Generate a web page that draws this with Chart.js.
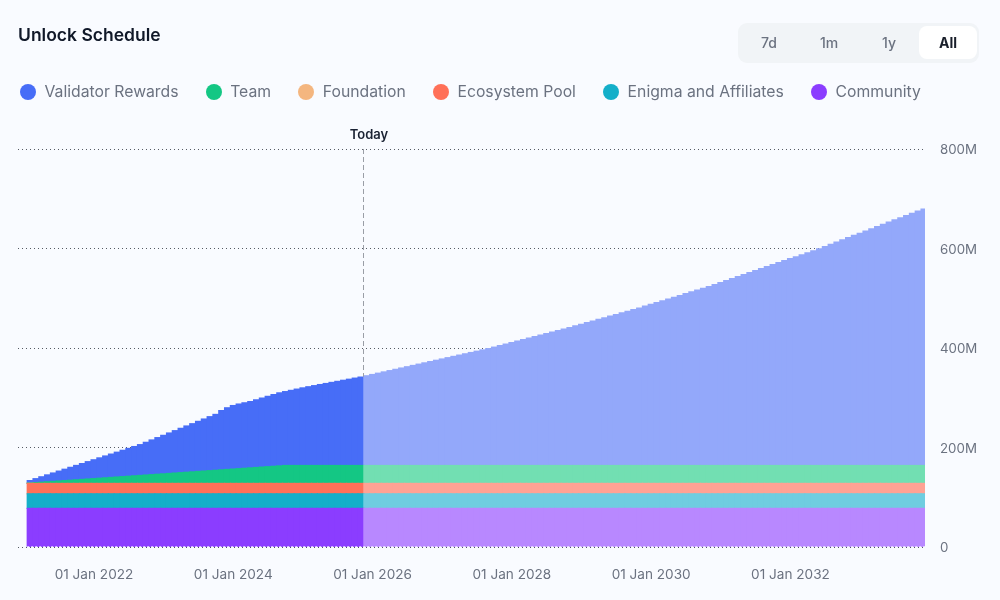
<!DOCTYPE html>
<html>
<head>
<meta charset="utf-8">
<title>Unlock Schedule</title>
<script src="https://cdn.jsdelivr.net/npm/chart.js@4"></script>
<style>
    html, body { margin: 0; padding: 0; background: #f9fbff; }
    body { width: 1000px; height: 600px; position: relative; overflow: hidden; font-family: Inter, sans-serif; }
    canvas { position: absolute; left: 0; top: 0; }
    .title { position: absolute; left: 18px; top: 24px; font-size: 17.5px; line-height: 22px; font-weight: 600; color: #101828; }
    .legend { position: absolute; left: 20px; top: 81px; display: flex; gap: 27.2px; font-size: 15.75px; line-height: 22px; color: #6b7280; white-space: nowrap; }
    .legend span { display: flex; align-items: center; gap: 8.5px; }
    .legend i { width: 16px; height: 16px; border-radius: 50%; display: block; }
    .range { position: absolute; left: 738px; top: 23px; width: 241px; height: 40px; background: #f1f4f7; border-radius: 9px; }
    .range b { position: absolute; top: 3px; width: 58px; height: 33px; line-height: 34px; text-align: center; font-size: 14px; font-weight: 500; color: #6b7280; border-radius: 8px; }
    .range b.on { background: #fff; color: #1a1f2b; font-weight: 700; }
</style>
</head>
<body>
<canvas id="unlockChart" width="1000" height="600"></canvas>
<div class="title">Unlock Schedule</div>
<div class="legend" id="legend"></div>
<div class="range">
    <b style="left:2px">7d</b><b style="left:62px">1m</b><b style="left:122px">1y</b><b class="on" style="left:181px">All</b>
</div>
<script>
// all values in millions of tokens, one per month
const validatorRewards = [
    4.9, 7.9, 10.9, 13.9, 16.9, 19.9, 22.9, 25.9, 28.9, 31.9,
    34.9, 37.9, 40.9, 43.9, 46.9, 49.9, 52.9, 55.9, 58.9, 61.9,
    65.8, 69.7, 73.6, 77.4, 81.3, 85.2, 89.1, 93.0, 96.8, 100.7,
    104.6, 108.5, 112.3, 119.2, 124, 127.7, 129.9, 131.6, 133.3, 136,
    138.7, 141.4, 144.1, 146.8, 148.5, 151, 153.5, 156, 158.3, 160.5,
    162.7, 164.8, 167, 169.1, 171.3, 173.4, 175.6, 177.7, 180.3, 182.9,
    185.5, 188.1, 190.7, 193.3, 195.9, 198.5, 201.1, 203.7, 206.3, 208.9,
    211.5, 214.1, 216.7, 219.3, 221.9, 224.5, 227.1, 229.7, 232.3, 234.9,
    237.9, 241, 244, 247, 250.1, 253.1, 256.1, 259.2, 262.2, 265.2,
    268.3, 271.3, 274.3, 277.4, 280.6, 283.9, 287.2, 290.4, 293.7, 297,
    300.2, 303.5, 306.8, 310, 313.3, 316.6, 320.2, 323.8, 327.3, 330.9,
    334.5, 338.1, 341.7, 345.3, 348.9, 352.4, 356, 359.6, 363.6, 367.7,
    371.7, 375.7, 379.8, 383.8, 387.8, 391.9, 395.9, 399.9, 404, 407.9,
    411.8, 415.7, 419.6, 423.5, 427.4, 431.3, 435.7, 440.2, 444.6, 449.1,
    453.5, 458, 462.4, 466.9, 471.3, 475.8, 480.2, 484.7, 489.1, 493.6,
    498, 502.5, 506.9, 511.4, 515.4
];
const team = [
    0.8, 1.6, 2.4, 3.2, 4, 4.8, 5.6, 6.4, 7.2, 8,
    8.8, 9.6, 10.4, 11.2, 12, 12.8, 13.6, 14.4, 15.2, 16,
    16.8, 17.6, 18.4, 19.2, 20, 20.8, 21.6, 22.4, 23.2, 24,
    24.8, 25.6, 26.4, 27.2, 28, 28.8, 29.6, 30.4, 31.2, 32,
    32.8, 33.6, 34.4, 35.2, 36, 36, 36, 36, 36, 36,
    36, 36, 36, 36, 36, 36, 36, 36, 36, 36,
    36, 36, 36, 36, 36, 36, 36, 36, 36, 36,
    36, 36, 36, 36, 36, 36, 36, 36, 36, 36,
    36, 36, 36, 36, 36, 36, 36, 36, 36, 36,
    36, 36, 36, 36, 36, 36, 36, 36, 36, 36,
    36, 36, 36, 36, 36, 36, 36, 36, 36, 36,
    36, 36, 36, 36, 36, 36, 36, 36, 36, 36,
    36, 36, 36, 36, 36, 36, 36, 36, 36, 36,
    36, 36, 36, 36, 36, 36, 36, 36, 36, 36,
    36, 36, 36, 36, 36, 36, 36, 36, 36, 36,
    36, 36, 36, 36, 36
];
// foundation is in the legend but has no visible band
const foundation = [0];
const ecosystemPool = [
    20.9, 20.9, 20.9, 20.9, 20.9, 20.9, 20.9, 20.9, 20.9, 20.9,
    20.9, 20.9, 20.9, 20.9, 20.9, 20.9, 20.9, 20.9, 20.9, 20.9,
    20.9, 20.9, 20.9, 20.9, 20.9, 20.9, 20.9, 20.9, 20.9, 20.9,
    20.9, 20.9, 20.9, 20.9, 20.9, 20.9, 20.9, 20.9, 20.9, 20.9,
    20.9, 20.9, 20.9, 20.9, 20.9, 20.9, 20.9, 20.9, 20.9, 20.9,
    20.9, 20.9, 20.9, 20.9, 20.9, 20.9, 20.9, 20.9, 20.9, 20.9,
    20.9, 20.9, 20.9, 20.9, 20.9, 20.9, 20.9, 20.9, 20.9, 20.9,
    20.9, 20.9, 20.9, 20.9, 20.9, 20.9, 20.9, 20.9, 20.9, 20.9,
    20.9, 20.9, 20.9, 20.9, 20.9, 20.9, 20.9, 20.9, 20.9, 20.9,
    20.9, 20.9, 20.9, 20.9, 20.9, 20.9, 20.9, 20.9, 20.9, 20.9,
    20.9, 20.9, 20.9, 20.9, 20.9, 20.9, 20.9, 20.9, 20.9, 20.9,
    20.9, 20.9, 20.9, 20.9, 20.9, 20.9, 20.9, 20.9, 20.9, 20.9,
    20.9, 20.9, 20.9, 20.9, 20.9, 20.9, 20.9, 20.9, 20.9, 20.9,
    20.9, 20.9, 20.9, 20.9, 20.9, 20.9, 20.9, 20.9, 20.9, 20.9,
    20.9, 20.9, 20.9, 20.9, 20.9, 20.9, 20.9, 20.9, 20.9, 20.9,
    20.9, 20.9, 20.9, 20.9, 20.9
];
const enigmaAffiliates = [
    29.3, 29.3, 29.3, 29.3, 29.3, 29.3, 29.3, 29.3, 29.3, 29.3,
    29.3, 29.3, 29.3, 29.3, 29.3, 29.3, 29.3, 29.3, 29.3, 29.3,
    29.3, 29.3, 29.3, 29.3, 29.3, 29.3, 29.3, 29.3, 29.3, 29.3,
    29.3, 29.3, 29.3, 29.3, 29.3, 29.3, 29.3, 29.3, 29.3, 29.3,
    29.3, 29.3, 29.3, 29.3, 29.3, 29.3, 29.3, 29.3, 29.3, 29.3,
    29.3, 29.3, 29.3, 29.3, 29.3, 29.3, 29.3, 29.3, 29.3, 29.3,
    29.3, 29.3, 29.3, 29.3, 29.3, 29.3, 29.3, 29.3, 29.3, 29.3,
    29.3, 29.3, 29.3, 29.3, 29.3, 29.3, 29.3, 29.3, 29.3, 29.3,
    29.3, 29.3, 29.3, 29.3, 29.3, 29.3, 29.3, 29.3, 29.3, 29.3,
    29.3, 29.3, 29.3, 29.3, 29.3, 29.3, 29.3, 29.3, 29.3, 29.3,
    29.3, 29.3, 29.3, 29.3, 29.3, 29.3, 29.3, 29.3, 29.3, 29.3,
    29.3, 29.3, 29.3, 29.3, 29.3, 29.3, 29.3, 29.3, 29.3, 29.3,
    29.3, 29.3, 29.3, 29.3, 29.3, 29.3, 29.3, 29.3, 29.3, 29.3,
    29.3, 29.3, 29.3, 29.3, 29.3, 29.3, 29.3, 29.3, 29.3, 29.3,
    29.3, 29.3, 29.3, 29.3, 29.3, 29.3, 29.3, 29.3, 29.3, 29.3,
    29.3, 29.3, 29.3, 29.3, 29.3
];
const community = [
    77.6, 77.6, 77.6, 77.6, 77.6, 77.6, 77.6, 77.6, 77.6, 77.6,
    77.6, 77.6, 77.6, 77.6, 77.6, 77.6, 77.6, 77.6, 77.6, 77.6,
    77.6, 77.6, 77.6, 77.6, 77.6, 77.6, 77.6, 77.6, 77.6, 77.6,
    77.6, 77.6, 77.6, 77.6, 77.6, 77.6, 77.6, 77.6, 77.6, 77.6,
    77.6, 77.6, 77.6, 77.6, 77.6, 77.6, 77.6, 77.6, 77.6, 77.6,
    77.6, 77.6, 77.6, 77.6, 77.6, 77.6, 77.6, 77.6, 77.6, 77.6,
    77.6, 77.6, 77.6, 77.6, 77.6, 77.6, 77.6, 77.6, 77.6, 77.6,
    77.6, 77.6, 77.6, 77.6, 77.6, 77.6, 77.6, 77.6, 77.6, 77.6,
    77.6, 77.6, 77.6, 77.6, 77.6, 77.6, 77.6, 77.6, 77.6, 77.6,
    77.6, 77.6, 77.6, 77.6, 77.6, 77.6, 77.6, 77.6, 77.6, 77.6,
    77.6, 77.6, 77.6, 77.6, 77.6, 77.6, 77.6, 77.6, 77.6, 77.6,
    77.6, 77.6, 77.6, 77.6, 77.6, 77.6, 77.6, 77.6, 77.6, 77.6,
    77.6, 77.6, 77.6, 77.6, 77.6, 77.6, 77.6, 77.6, 77.6, 77.6,
    77.6, 77.6, 77.6, 77.6, 77.6, 77.6, 77.6, 77.6, 77.6, 77.6,
    77.6, 77.6, 77.6, 77.6, 77.6, 77.6, 77.6, 77.6, 77.6, 77.6,
    77.6, 77.6, 77.6, 77.6, 77.6
];

// x axis counts months since Jan 2021, bars start Feb 2021
const months = validatorRewards.map((v, i) => i + 1);
const tickMonths = [12, 36, 60, 84, 108, 132];
const tickLabels = ['01 Jan 2022', '01 Jan 2024', '01 Jan 2026', '01 Jan 2028', '01 Jan 2030', '01 Jan 2032'];
const yTicks = [0, 200, 400, 600, 800];
const yTickLabels = ['0', '200M', '400M', '600M', '800M'];
const todayMonth = 58.35;

const seriesNames = ['Validator Rewards', 'Team', 'Foundation', 'Ecosystem Pool', 'Enigma and Affiliates', 'Community'];
const seriesValues = [validatorRewards, team, foundation, ecosystemPool, enigmaAffiliates, community];
const seriesColors = ['#476df7', '#14c784', '#f4b67f', '#ff7058', '#14afc9', '#8b3dff'];
const futureColors = ['#93a8fa', '#72dfb2', '#f8d3b2', '#ffa294', '#6fcde0', '#b888ff'];

const BG = '#f9fbff';

// legend
const legendEl = document.getElementById('legend');
seriesNames.forEach((name, i) => {
    const item = document.createElement('span');
    item.innerHTML = '<i style="background:' + seriesColors[i] + '"></i>' + name;
    legendEl.appendChild(item);
});

// Today marker and the notched base of the bars
const todayPlugin = {
    id: 'todayMarker',
    afterDatasetsDraw(chart) {
        const { ctx, chartArea, scales } = chart;
        const x = Math.round(scales.x.getPixelForValue(todayMonth)) + 0.5;
        const y0 = scales.y.getPixelForValue(0);
        ctx.save();
        ctx.strokeStyle = BG;
        ctx.lineWidth = 1.5;
        ctx.setLineDash([2, 2]);
        ctx.beginPath();
        ctx.moveTo(scales.x.getPixelForValue(0.5), y0);
        ctx.lineTo(chartArea.right, y0);
        ctx.stroke();

        // the line only shows above the bars, the colour change marks it below
        const top = scales.y.getPixelForValue(342);
        ctx.strokeStyle = '#9a9ea6';
        ctx.lineWidth = 1;
        ctx.setLineDash([5, 3]);
        ctx.beginPath();
        ctx.moveTo(x, chartArea.top);
        ctx.lineTo(x, top);
        ctx.stroke();

        ctx.setLineDash([]);
        ctx.fillStyle = '#1a2233';
        ctx.font = '600 13px Inter';
        ctx.textAlign = 'center';
        ctx.textBaseline = 'middle';
        ctx.fillText('Today', x + 5.5, 135.5);
        ctx.restore();
    }
};

// community sits at the bottom of the stack, so the legend order is reversed here
new Chart(document.getElementById('unlockChart'), {
    type: 'bar',
    data: {
        labels: months,
        datasets: seriesNames.map((name, i) => ({
            label: name,
            data: seriesValues[i],
            backgroundColor: ctx => months[ctx.index] <= todayMonth ? seriesColors[i] : futureColors[i],
            borderWidth: 0,
            inflateAmount: 0.6,
            barPercentage: 1,
            categoryPercentage: 1
        })).reverse()
    },
    plugins: [todayPlugin],
    options: {
        responsive: false,
        animation: false,
        layout: { padding: { left: 18, top: 149, right: 0, bottom: 0 } },
        plugins: { legend: { display: false }, tooltip: { enabled: false } },
        scales: {
            x: {
                type: 'linear',
                stacked: true,
                offset: false,
                min: -1.09,
                max: 155.18,
                grid: { display: false },
                border: { display: false },
                afterBuildTicks: scale => { scale.ticks = tickMonths.map(v => ({ value: v })); },
                afterFit: scale => { scale.height = 53; },
                ticks: {
                    autoSkip: false,
                    maxRotation: 0,
                    padding: 12,
                    color: '#6b7280',
                    font: { family: 'Inter', size: 13.6 },
                    callback: value => tickLabels[tickMonths.indexOf(value)]
                }
            },
            y: {
                position: 'right',
                stacked: true,
                min: 0,
                max: 800,
                afterBuildTicks: scale => { scale.ticks = yTicks.map(v => ({ value: v })); },
                afterFit: scale => { scale.width = 75; },
                grid: {
                    color: '#555a63',
                    lineWidth: 1,
                    drawTicks: false
                },
                border: { display: false, dash: [1, 3] },
                ticks: {
                    padding: 15,
                    labelOffset: 1,
                    color: '#6b7280',
                    font: { family: 'Inter', size: 13.3 },
                    callback: value => yTickLabels[yTicks.indexOf(value)]
                }
            }
        }
    }
});
</script>
</body>
</html>
